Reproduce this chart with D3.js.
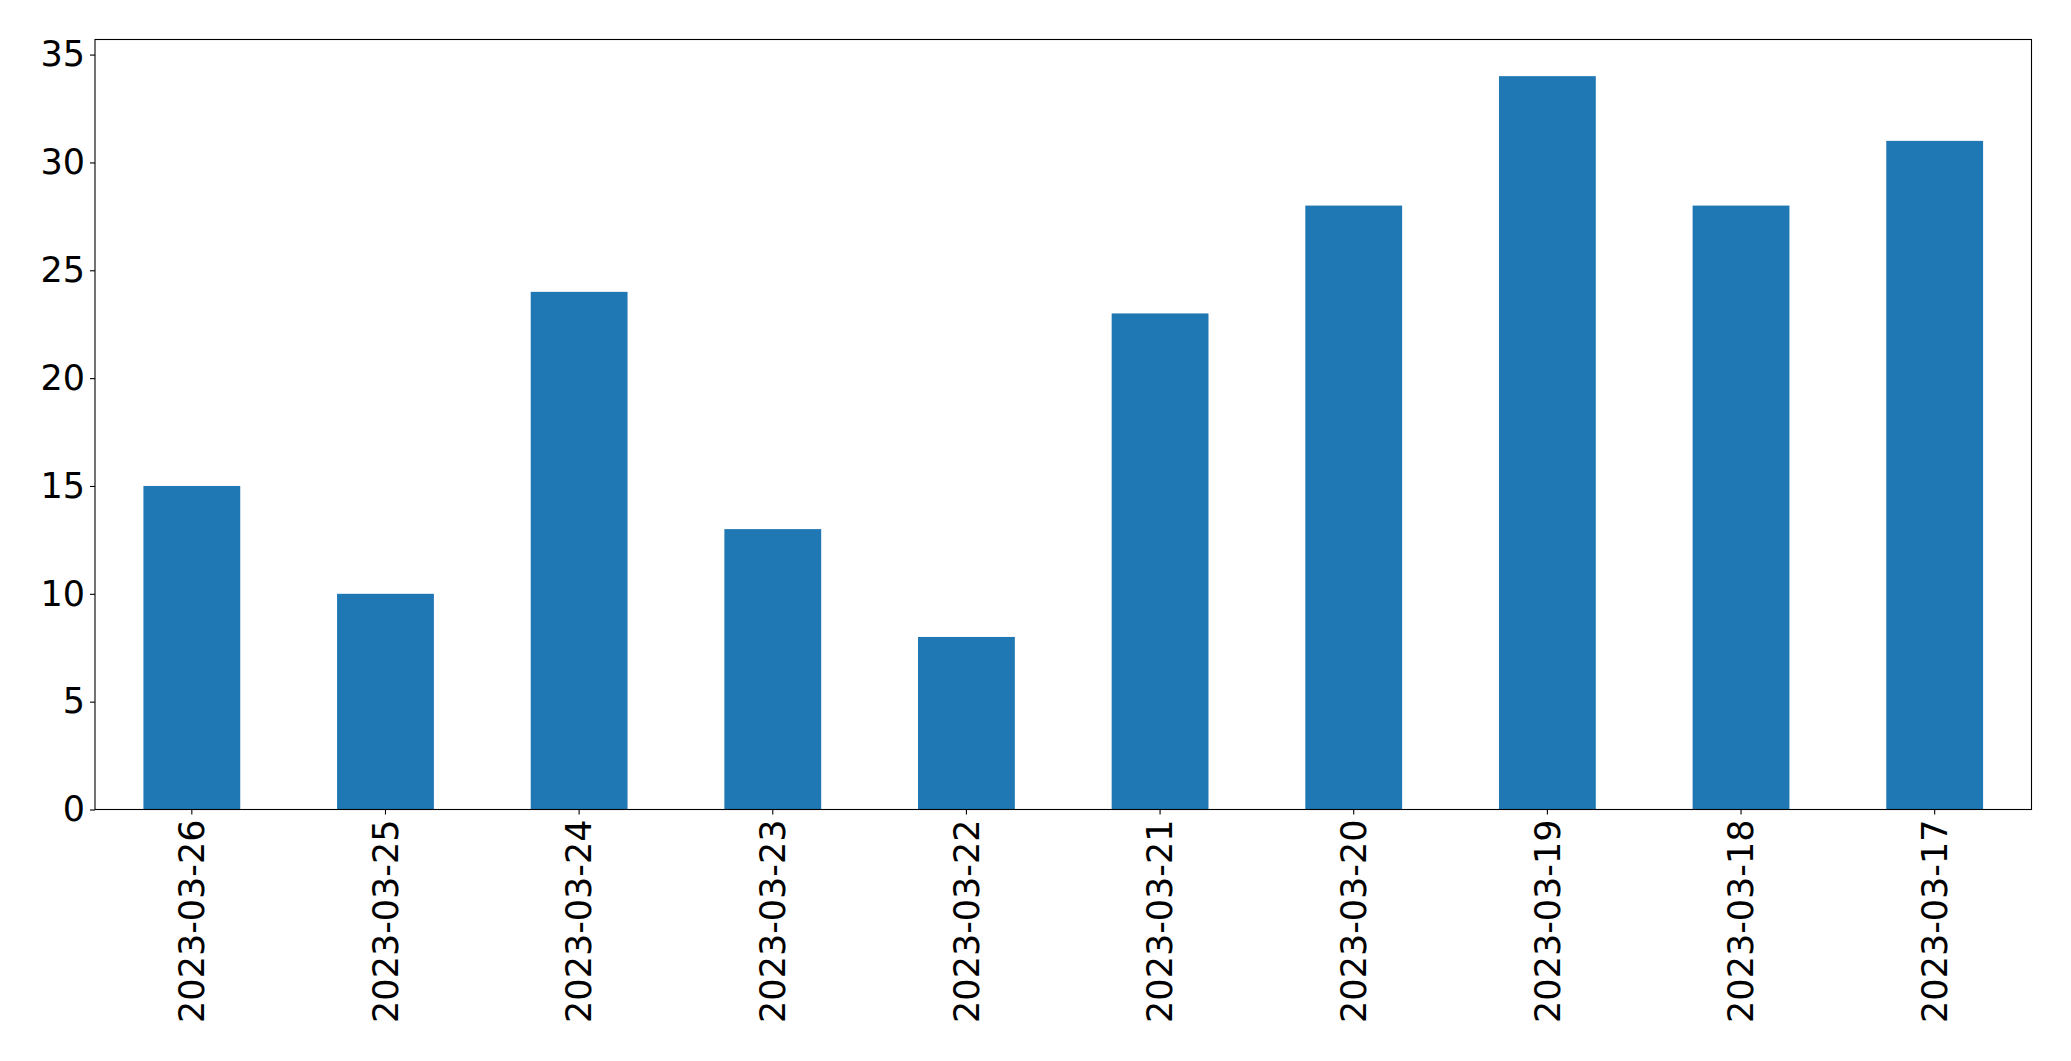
<!DOCTYPE html>
<html>
<head>
<meta charset="utf-8">
<script src="https://cdn.jsdelivr.net/npm/d3@7"></script>
<style>
  body { margin: 0; background: #fff; }
  svg { display: block; }
  .tick text { font-family: "DejaVu Sans", sans-serif; font-size: 35px; fill: #000; }
</style>
</head>
<body>
<svg id="chart" width="2071" height="1061"></svg>
<script>
// data
var dates = ["2023-03-26", "2023-03-25", "2023-03-24", "2023-03-23", "2023-03-22",
             "2023-03-21", "2023-03-20", "2023-03-19", "2023-03-18", "2023-03-17"];
var counts = [15, 10, 24, 13, 8, 23, 28, 34, 28, 31];
var yTicks = [0, 5, 10, 15, 20, 25, 30, 35];

var WIDTH = 2071, HEIGHT = 1061;
var MARGIN_LEFT = 95, MARGIN_TOP = 39.5, MARGIN_RIGHT = 39.5, MARGIN_BOTTOM = 251.5;
var TICK_LEN = 5, TICK_PAD = 5;

var svg = d3.select("#chart");
var plotW = WIDTH - MARGIN_LEFT - MARGIN_RIGHT;
var plotH = HEIGHT - MARGIN_TOP - MARGIN_BOTTOM;

var x = d3.scaleBand()
    .domain(dates)
    .range([MARGIN_LEFT, MARGIN_LEFT + plotW])
    .paddingInner(0.5)
    .paddingOuter(0.25);

var y = d3.scaleLinear()
    .domain([0, d3.max(counts) * 1.05])
    .range([MARGIN_TOP + plotH, MARGIN_TOP]);

// bars
svg.append("g")
    .selectAll("rect")
    .data(counts)
    .enter()
    .append("rect")
    .attr("x", function(d, i){ return x(dates[i]); })
    .attr("y", function(d){ return y(d); })
    .attr("width", x.bandwidth())
    .attr("height", function(d){ return y(0) - y(d); })
    .attr("fill", "#1f77b4");

// y axis
var yAxis = svg.append("g")
    .attr("transform", "translate(" + MARGIN_LEFT + ",0)")
    .call(d3.axisLeft(y).tickValues(yTicks).tickSize(TICK_LEN).tickPadding(TICK_PAD));
yAxis.select(".domain").remove();
yAxis.selectAll(".tick line").attr("stroke", "#000").attr("stroke-width", 1.1);

// x axis, labels rotated
var xAxis = svg.append("g")
    .attr("transform", "translate(0," + (MARGIN_TOP + plotH) + ")")
    .call(d3.axisBottom(x).tickSize(TICK_LEN).tickPadding(TICK_PAD));
xAxis.select(".domain").remove();
xAxis.selectAll(".tick line").attr("stroke", "#000").attr("stroke-width", 1.1);
xAxis.selectAll(".tick text")
    .attr("transform", "rotate(-90)")
    .attr("x", -(TICK_LEN + TICK_PAD))
    .attr("y", 0)
    .attr("dy", "0.35em")
    .attr("text-anchor", "end");

// frame
svg.append("rect")
    .attr("x", MARGIN_LEFT)
    .attr("y", MARGIN_TOP)
    .attr("width", plotW)
    .attr("height", plotH)
    .attr("fill", "none")
    .attr("stroke", "#000")
    .attr("stroke-width", 1.1);
</script>
</body>
</html>
